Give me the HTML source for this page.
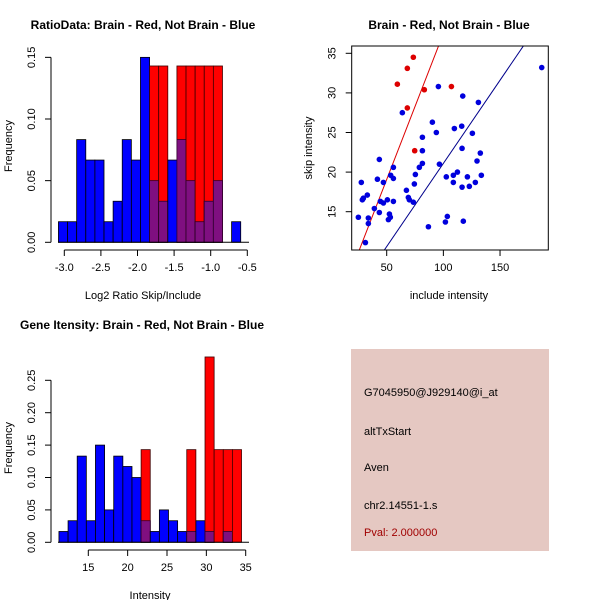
<!DOCTYPE html>
<html><head><meta charset="utf-8"><style>
body{margin:0;background:#fff}
svg{display:block;font-family:"Liberation Sans",Arial,sans-serif}
</style></head><body>
<svg id="c" width="600" height="600" viewBox="0 0 600 600">
<rect x="351" y="349" width="198" height="202" fill="#e5c8c2"/>
<g font-size="11" fill="#000">
<text x="364" y="396">G7045950@J929140@i_at</text>
<text x="364" y="435">altTxStart</text>
<text x="364" y="471">Aven</text>
<text x="364" y="509">chr2.14551-1.s</text>
<text x="364" y="536" fill="#a00000">Pval: 2.000000</text>
</g>
</svg>
<script>
// ---- Ratio histogram data ----
const ratioStart = -3.08;
const ratioBinWidth = 0.1245;
const ratioBlue = [0.0167,0.0167,0.0833,0.0667,0.0667,0.0167,0.0333,0.0833,0.0667,0.15,0.05,0.0333,0.0667,0.0833,0.05,0.0167,0.0333,0.05,0,0.0167];
const ratioRed  = [0,0,0,0,0,0,0,0,0,0,0.143,0.143,0,0.143,0.143,0.143,0.143,0.143,0,0];
const ratioXTicks = [-3.0,-2.5,-2.0,-1.5,-1.0,-0.5];
const ratioXTickLabels = ["-3.0","-2.5","-2.0","-1.5","-1.0","-0.5"];
const ratioYTicks = [0,0.05,0.10,0.15];
const ratioYTickLabels = ["0.00","0.05","0.10","0.15"];
// ---- Intensity histogram data ----
const intStart = 11.27;
const intBinWidth = 1.16;
const intBlue = [0.0167,0.0333,0.133,0.0333,0.15,0.05,0.133,0.117,0.1,0.0333,0.0167,0.05,0.0333,0.0167,0.0167,0.0333,0.0167,0,0.0167,0];
const intRed  = [0,0,0,0,0,0,0,0,0,0.143,0,0,0,0,0.143,0,0.286,0.143,0.143,0.143];
const intXTicks = [15,20,25,30,35];
const intXTickLabels = ["15","20","25","30","35"];
const intYTicks = [0,0.05,0.10,0.15,0.20,0.25];
const intYTickLabels = ["0.00","0.05","0.10","0.15","0.20","0.25"];
// ---- Scatter data ----
const redX = [73.5,68.2,59.4,83.2,107.1,68.2,74.7];
const redY = [34.5,33.1,31.1,30.4,30.8,28.1,22.7];
const blueX = [186.8,95.6,117.1,130.9,63.8,90.3,93.8,109.7,116.2,125.6,81.5,81.5,116.5,132.6,129.7,43.5,81.5,96.5,78.8,55.9,53.5,55.9,75.3,133.5,102.6,112.4,108.8,121.2,27.6,41.8,47.1,74.4,108.8,128.2,116.5,122.9,67.4,69.1,32.9,29.4,28.5,70.0,73.5,50.6,44.4,47.1,55.9,39.1,43.5,52.4,25,33.8,53.2,51.5,33.8,103.5,101.8,117.6,86.8,31.2];
const blueY = [33.2,30.8,29.6,28.8,27.5,26.3,25.0,25.5,25.8,24.9,24.4,22.7,23.0,22.4,21.4,21.6,21.1,21.0,20.6,20.6,19.6,19.2,19.7,19.6,19.4,20.0,19.6,19.4,18.7,19.1,18.7,18.5,18.7,18.7,18.1,18.2,17.7,16.8,17.1,16.7,16.5,16.5,16.2,16.5,16.3,16.1,16.3,15.4,14.9,14.7,14.3,14.2,14.3,14.0,13.5,14.4,13.7,13.8,13.1,11.1];
const redLine = [0.65, 0.3685];   // intercept, slope
const blueLine = [0.1, 0.21];
const scXTicks = [50,100,150];
const scXTickLabels = ["50","100","150"];
const scYTicks = [15,20,25,30,35];
const scYTickLabels = ["15","20","25","30","35"];

const NS="http://www.w3.org/2000/svg";
const svg=document.getElementById('c');
function mk(tag,attrs,parent){const e=document.createElementNS(NS,tag);for(const k in attrs)e.setAttribute(k,attrs[k]);(parent||svg).appendChild(e);return e;}
function txt(x,y,s,attrs,parent){const t=mk('text',Object.assign({x:x,y:y},attrs||{}),parent);t.textContent=s;return t;}

function hist(cfg){
  const g=mk('g',{});
  
  
  const X=v=>cfg.x0px+(v-cfg.x0)*cfg.xs, Y=v=>cfg.y0px-v*cfg.ys;
  for(let i=0;i<cfg.blue.length;i++){
    const l=X(cfg.start+i*cfg.bw), r=X(cfg.start+(i+1)*cfg.bw);
    const b=cfg.blue[i], rd=cfg.red[i];
    if(b>0){const e=mk('rect',{x:l,y:Y(b),width:r-l,height:Y(0)-Y(b),fill:'#0000ff',stroke:'#000','stroke-width':0.8},g);
      
      }
    if(rd>0){const e=mk('rect',{x:l,y:Y(rd),width:r-l,height:Y(0)-Y(rd),fill:'#ff0000',stroke:'#400000','stroke-width':0.8},g);
      
      }
    const m=Math.min(b,rd);
    if(m>0){const e=mk('rect',{x:l,y:Y(m),width:r-l,height:Y(0)-Y(m),fill:'#7f0f80',stroke:'#300030','stroke-width':0.8},g);
      
      }
  }
  const yt=cfg.yTicks;
  mk('line',{x1:cfg.yAxisX,x2:cfg.yAxisX,y1:Y(yt[0]),y2:Y(yt[yt.length-1]),stroke:'#000'},g);
  yt.forEach((v,i)=>{mk('line',{x1:cfg.yAxisX-6,x2:cfg.yAxisX,y1:Y(v),y2:Y(v),stroke:'#000'},g);
    const t=txt(cfg.yAxisX-16,Y(v),cfg.yLabels[i],{'font-size':11,'text-anchor':'middle',transform:`rotate(-90 ${cfg.yAxisX-16} ${Y(v)})`},g);
    
    });
  const xt=cfg.xTicks;
  mk('line',{x1:X(xt[0]),x2:X(xt[xt.length-1]),y1:cfg.xAxisY,y2:cfg.xAxisY,stroke:'#000'},g);
  xt.forEach((v,i)=>{mk('line',{x1:X(v),x2:X(v),y1:cfg.xAxisY,y2:cfg.xAxisY+6,stroke:'#000'},g);
    const t=txt(X(v),cfg.xAxisY+21,cfg.xLabels[i],{'font-size':11,'text-anchor':'middle'},g);
    
    });
  mk('line',{x1:cfg.baseL,x2:cfg.baseR,y1:Y(0),y2:Y(0),stroke:'#000'},g);
}

hist({name:'ratio-histogram',start:ratioStart,bw:ratioBinWidth,blue:ratioBlue,red:ratioRed,
  x0:-3.0,x0px:64.3,xs:73.2,y0px:242.3,ys:1233,yAxisX:51,xAxisY:250,
  yTicks:ratioYTicks,yLabels:ratioYTickLabels,xTicks:ratioXTicks,xLabels:ratioXTickLabels,baseL:58,baseR:249});
hist({name:'intensity-histogram',start:intStart,bw:intBinWidth,blue:intBlue,red:intRed,
  x0:15,x0px:88.3,xs:7.87,y0px:542.3,ys:648,yAxisX:51,xAxisY:550,
  yTicks:intYTicks,yLabels:intYTickLabels,xTicks:intXTicks,xLabels:intXTickLabels,baseL:58,baseR:249});

(function(){
  const g=mk('g',{});
  
  
  const L=351.7,R=548.3,T=46,B=250;
  const X=v=>386.7+(v-50)*1.1333, Y=v=>53.3+(35-v)*7.92;
  const iX=p=>50+(p-386.7)/1.1333;
  const clip=mk('clipPath',{id:'scclip'},g);mk('rect',{x:L,y:T,width:R-L,height:B-T},clip);
  [[redLine,'#dd0000','red-fit-line'],[blueLine,'#00008b','blue-fit-line']].forEach(([ln,col,nm])=>{
    const x1=iX(L),x2=iX(R);
    const e=mk('line',{x1:X(x1),y1:Y(ln[0]+ln[1]*x1),x2:X(x2),y2:Y(ln[0]+ln[1]*x2),stroke:col,'stroke-width':1,'clip-path':'url(#scclip)'},g);
    
    
  });
  blueX.forEach((v,i)=>{const c=mk('circle',{cx:X(v),cy:Y(blueY[i]),r:2.8,fill:'#0000dd'},g);
    
    });
  redX.forEach((v,i)=>{const c=mk('circle',{cx:X(v),cy:Y(redY[i]),r:2.8,fill:'#dd0000'},g);
    
    });
  mk('rect',{x:L,y:T,width:R-L,height:B-T,fill:'none',stroke:'#000'},g);
  scXTicks.forEach((v,i)=>{mk('line',{x1:X(v),x2:X(v),y1:B,y2:B+6,stroke:'#000'},g);
    const t=txt(X(v),B+21,scXTickLabels[i],{'font-size':11,'text-anchor':'middle'},g);
    
    });
  scYTicks.forEach((v,i)=>{mk('line',{x1:L-6,x2:L,y1:Y(v),y2:Y(v),stroke:'#000'},g);
    const t=txt(L-16,Y(v),scYTickLabels[i],{'font-size':11,'text-anchor':'middle',transform:`rotate(-90 ${L-16} ${Y(v)})`},g);
    
    });
})();
</script>
<svg style="position:absolute;left:0;top:0" width="600" height="600">
<g font-family="Liberation Sans, Arial, sans-serif" fill="#000">
<text x="143" y="29" font-size="12" font-weight="bold" text-anchor="middle">RatioData: Brain - Red, Not Brain - Blue</text>
<text x="449" y="29" font-size="12" font-weight="bold" text-anchor="middle">Brain - Red, Not Brain - Blue</text>
<text x="142" y="329" font-size="12" font-weight="bold" text-anchor="middle">Gene Itensity: Brain - Red, Not Brain - Blue</text>
<text x="143" y="299" font-size="11" text-anchor="middle">Log2 Ratio Skip/Include</text>
<text x="449" y="299" font-size="11" text-anchor="middle">include intensity</text>
<text x="150" y="599" font-size="11" text-anchor="middle">Intensity</text>
<text x="12" y="146" font-size="11" text-anchor="middle" transform="rotate(-90 12 146)">Frequency</text>
<text x="312" y="148" font-size="11" text-anchor="middle" transform="rotate(-90 312 148)">skip intensity</text>
<text x="12" y="448" font-size="11" text-anchor="middle" transform="rotate(-90 12 448)">Frequency</text>
</g>
</svg>
</body></html>
